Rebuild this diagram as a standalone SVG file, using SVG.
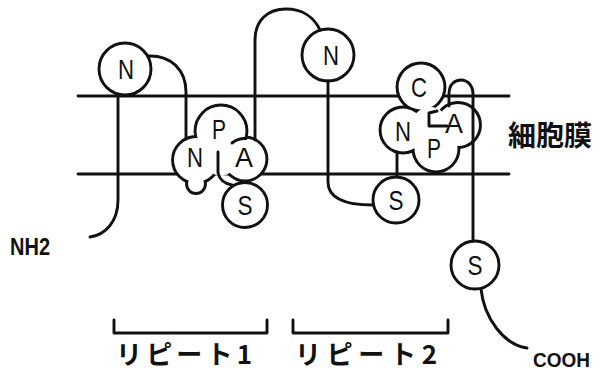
<svg xmlns="http://www.w3.org/2000/svg" width="603" height="370" viewBox="0 0 603 370">
  <style>
    .ln { fill: none; stroke: #111; stroke-width: 2.9; stroke-linecap: round; stroke-linejoin: round; }
    .ring { fill: #fff; stroke: #111; stroke-width: 2.9; }
    .lobe-edge { fill: none; stroke: #111; stroke-width: 5.8; }
    .lobe-fill { fill: #fff; stroke: none; }
    .res { font-family: "Liberation Sans", Arial, sans-serif; font-size: 28px; text-anchor: middle; fill: #111; }
    .lbl { font-family: "Liberation Sans", Arial, sans-serif; font-weight: 700; fill: #111; }
    .jp { font-family: "Noto Sans CJK JP", "Noto Sans CJK SC", sans-serif; font-weight: 700; fill: #111; }
  </style>

  <rect width="603" height="370" fill="#fff"/>

  <!-- membrane bilayer edges -->
  <g id="membrane" class="ln">
    <line x1="78" y1="96" x2="509" y2="96"/>
    <line x1="78" y1="174" x2="509" y2="174"/>
  </g>

  <!-- N-terminal N domain -->
  <g id="n1">
    <circle class="ring" cx="125" cy="69" r="26"/>
    <text class="res" x="126" y="79" textLength="16" lengthAdjust="spacingAndGlyphs">N</text>
  </g>

  <!-- repeat 1 core: N / P / A lobes -->
  <g id="core1">
    <g class="lobe-edge">
      <circle cx="196" cy="160" r="22"/>
      <circle cx="221" cy="131" r="24.5"/>
      <circle cx="245" cy="159" r="20.5"/>
      <circle cx="196" cy="184" r="8"/>
    </g>
    <g class="lobe-fill">
      <circle cx="196" cy="160" r="22"/>
      <circle cx="221" cy="131" r="24.5"/>
      <circle cx="245" cy="159" r="20.5"/>
      <circle cx="196" cy="184" r="8"/>
      <circle cx="221" cy="163" r="13"/>
    </g>
    <path class="ln" d="M218,152 L218,173 C220,181 226,184 232,185"/>
    <path class="ln" d="M232,143 A20.5,20.5 0 0 1 246,138.5"/>
    <text class="res" x="219" y="139" textLength="14" lengthAdjust="spacingAndGlyphs">P</text>
    <text class="res" x="195" y="167" textLength="16" lengthAdjust="spacingAndGlyphs">N</text>
    <text class="res" x="244" y="167" textLength="18" lengthAdjust="spacingAndGlyphs">A</text>
  </g>

  <g id="s1">
    <circle class="ring" cx="245" cy="205" r="22.5"/>
    <text class="res" x="245" y="215" textLength="15" lengthAdjust="spacingAndGlyphs">S</text>
  </g>

  <!-- second N domain -->
  <g id="n2">
    <circle class="ring" cx="328" cy="55" r="26"/>
    <text class="res" x="331" y="65" textLength="16" lengthAdjust="spacingAndGlyphs">N</text>
  </g>

  <!-- repeat 2 core: C / N / A / P lobes -->
  <g id="core2">
    <g class="lobe-edge">
      <circle cx="421" cy="87" r="22.5"/>
      <circle cx="403" cy="130" r="21.5"/>
      <circle cx="458" cy="125" r="21"/>
      <circle cx="436" cy="149" r="21.5"/>
    </g>
    <g class="lobe-fill">
      <circle cx="421" cy="87" r="22.5"/>
      <circle cx="403" cy="130" r="21.5"/>
      <circle cx="458" cy="125" r="21"/>
      <circle cx="436" cy="149" r="21.5"/>
      <circle cx="430" cy="125" r="18"/>
    </g>
    <path class="ln" d="M437,111 L429,113 L429,126 L447,126"/>
    <text class="res" x="419" y="97" textLength="16" lengthAdjust="spacingAndGlyphs">C</text>
    <text class="res" x="403" y="141" textLength="16" lengthAdjust="spacingAndGlyphs">N</text>
    <text class="res" x="454" y="133" textLength="18" lengthAdjust="spacingAndGlyphs">A</text>
    <text class="res" x="434" y="158" textLength="14" lengthAdjust="spacingAndGlyphs">P</text>
  </g>

  <g id="s2">
    <circle class="ring" cx="396" cy="200" r="23"/>
    <text class="res" x="396" y="210" textLength="15" lengthAdjust="spacingAndGlyphs">S</text>
  </g>

  <g id="s3">
    <circle class="ring" cx="475" cy="265" r="24"/>
    <text class="res" x="475" y="275" textLength="15" lengthAdjust="spacingAndGlyphs">S</text>
  </g>

  <!-- polypeptide chain -->
  <g id="connectors" class="ln">
    <path d="M118,94 L118,200 C118,222 105,235 90,237"/>
    <path d="M148,56 C171,55 186,70 186,92 L186,139"/>
    <path d="M255,140 L255,40 C255,20 268,9 286,9 C302,9 314,17 320,30"/>
    <path d="M328,81 L328,182 C328,198 345,205 373,205"/>
    <path d="M397,177 L397,152"/>
    <path d="M449,106 L449,94 C449,84 455,80 461,80 C468,80 473,86 473,94 L473,241"/>
    <path d="M481,289 C484,318 504,345 527,348"/>
  </g>

  <!-- repeat brackets -->
  <g id="brackets" class="ln" stroke-linecap="butt">
    <path d="M114,320 L114,333 L267,333 L267,320"/>
    <path d="M293,320 L293,333 L448,333 L448,320"/>
  </g>

  <!-- labels -->
  <g id="labels">
    <text class="lbl" x="10" y="255" font-size="23" textLength="40" lengthAdjust="spacingAndGlyphs">NH2</text>
    <text class="lbl" x="533" y="367" font-size="21" textLength="57" lengthAdjust="spacingAndGlyphs">COOH</text>
    <text class="jp" x="508" y="146" font-size="28">細胞膜</text>
    <text class="jp" x="116" y="364" font-size="26" textLength="136" lengthAdjust="spacing">リピート1</text>
    <text class="jp" x="295" y="364" font-size="26" textLength="142" lengthAdjust="spacing">リピート2</text>
  </g>
</svg>
